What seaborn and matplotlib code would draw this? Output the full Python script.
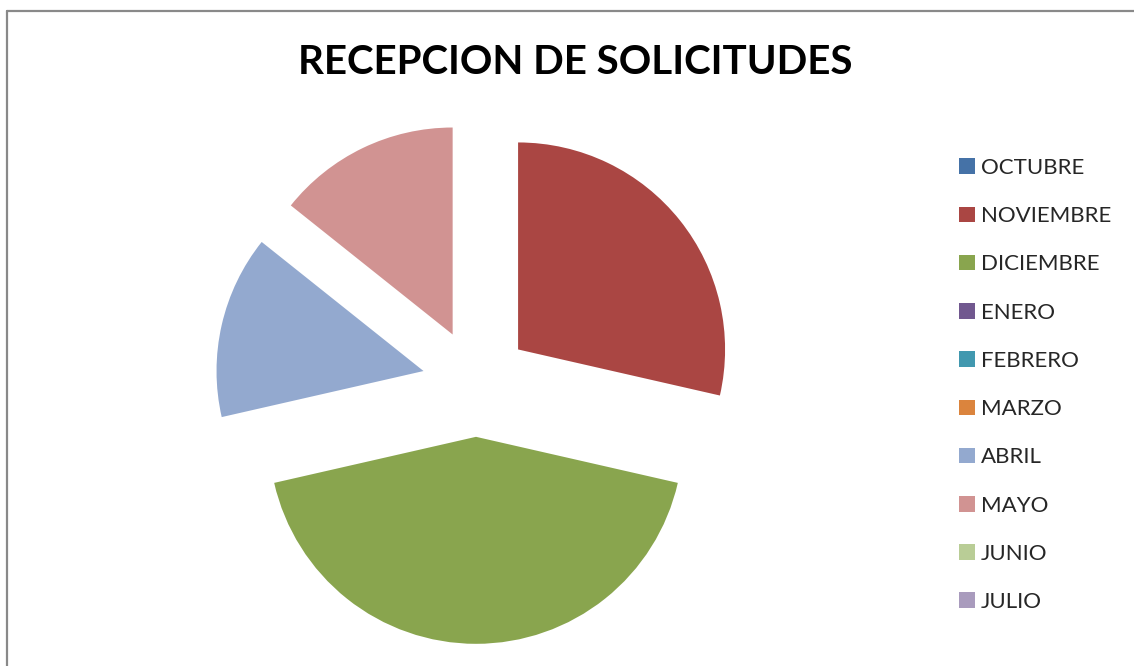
import matplotlib
matplotlib.use("Agg")
import matplotlib.pyplot as plt
from matplotlib.patches import Patch
from matplotlib.lines import Line2D
import seaborn as sns

# data
meses = ['OCTUBRE', 'NOVIEMBRE', 'DICIEMBRE', 'ENERO', 'FEBRERO',
         'MARZO', 'ABRIL', 'MAYO', 'JUNIO', 'JULIO']
solicitudes = [0, 2, 3, 0, 0, 0, 1, 1, 0, 0]
colores = ['#4572A7', '#AA4643', '#89A54E', '#71588F', '#4198AF',
           '#DB843D', '#93A9CF', '#D19392', '#B9CD96', '#A99BBD']

sns.set_theme(style='white')
plt.rcParams['font.family'] = ['Lato', 'DejaVu Sans']

W, H = 1134, 666
fig = plt.figure(figsize=(W / 100, H / 100), dpi=100)
ax = fig.add_axes([0, 0, 1, 1])

# only the months with requests get a slice, every month goes in the legend
valores = [v for v in solicitudes if v > 0]
cols = [c for v, c in zip(solicitudes, colores) if v > 0]

# pie centre and radius in pixels
cx, cy, r = 476, 383, 207
ax.pie(valores, colors=cols, startangle=90, counterclock=False,
       explode=[0.26] * len(valores), radius=1,
       wedgeprops=dict(linewidth=0))
ax.set_xlim(-cx / r, (W - cx) / r)
ax.set_ylim(-(H - cy) / r, cy / r)
ax.set_aspect('equal')
ax.axis('off')

fig.text(575 / W, 1 - 62 / H, 'RECEPCION DE SOLICITUDES', ha='center',
         va='center', fontsize=29, fontweight='bold', color='black')

handles = [Patch(facecolor=c, edgecolor='none') for c in colores]
fig.legend(handles, meses, loc='upper left',
           bbox_to_anchor=(959 / W, 1 - 158 / H), frameon=False,
           fontsize=16, handlelength=0.7, handleheight=0.7,
           handletextpad=0.3, labelspacing=1.27, borderpad=0,
           borderaxespad=0)

# chart border (only top and left edges are visible)
fig.add_artist(Line2D([6.5 / W, 6.5 / W], [0, 1 - 10.5 / H],
                      transform=fig.transFigure, color='#898989', lw=1.6))
fig.add_artist(Line2D([6.5 / W, 1], [1 - 10.5 / H, 1 - 10.5 / H],
                      transform=fig.transFigure, color='#898989', lw=1.6))

fig.savefig('out.png', dpi=100, facecolor='white')
